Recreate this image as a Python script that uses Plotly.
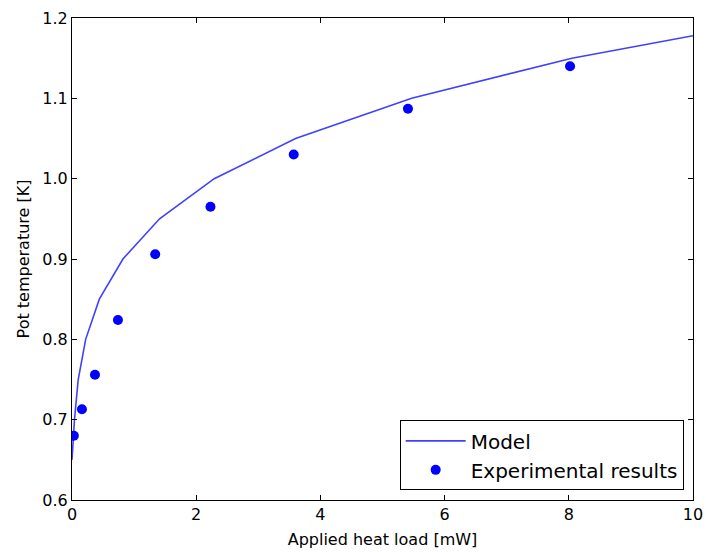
import plotly.graph_objects as go

# Model curve
model_q = [0.0, 0.04, 0.10, 0.22, 0.44, 0.82, 1.41, 2.29, 3.60, 5.47, 8.05, 10.0]
model_t = [0.65, 0.70, 0.75, 0.80, 0.85, 0.90, 0.95, 1.00, 1.05, 1.10, 1.15, 1.178]

# Experimental results
exp_q = [0.03, 0.16, 0.37, 0.74, 1.34, 2.23, 3.57, 5.41, 8.02]
exp_t = [0.680, 0.713, 0.756, 0.824, 0.906, 0.965, 1.030, 1.087, 1.140]
exp_err = [0.003, 0.003, 0.003, 0.003, 0.003, 0.003, 0.003, 0.003, 0.003]

x_ticks = [0, 2, 4, 6, 8, 10]
y_ticks = [0.6, 0.7, 0.8, 0.9, 1.0, 1.1, 1.2]

fig = go.Figure()
fig.add_trace(go.Scatter(
    x=model_q, y=model_t, mode="lines", name="Model",
    line=dict(color="rgba(0,0,255,0.75)", width=1.6),
))
fig.add_trace(go.Scatter(
    x=exp_q, y=exp_t, mode="markers", name="Experimental results",
    marker=dict(color="#0000ff", size=10, line=dict(width=0)),
    error_y=dict(type="data", array=exp_err, color="#0000ff", thickness=1, width=3),
))

axis_common = dict(
    showgrid=False, zeroline=False, showline=True, linecolor="black", linewidth=1,
    mirror="allticks", ticks="inside", ticklen=5, tickcolor="black", tickwidth=1,
    automargin=False,
    tickfont=dict(family="DejaVu Sans", size=16, color="black"),
)

fig.update_layout(
    width=706, height=552,
    margin=dict(l=72, r=13, t=18, b=52),
    paper_bgcolor="white", plot_bgcolor="white",
    font=dict(family="DejaVu Sans", size=16, color="black"),
    xaxis=dict(range=[0, 10], tickvals=x_ticks, ticktext=[str(v) for v in x_ticks],
               title=dict(text="Applied heat load [mW]", standoff=10,
                          font=dict(family="DejaVu Sans", size=16, color="black")),
               **axis_common),
    yaxis=dict(range=[0.6, 1.2], tickvals=y_ticks, ticktext=[f"{v:.1f}" for v in y_ticks],
               title=dict(text="Pot temperature [K]", standoff=8,
                          font=dict(family="DejaVu Sans", size=16, color="black")),
               **axis_common),
    legend=dict(x=0.985, y=0.02, xanchor="right", yanchor="bottom",
                bgcolor="white", bordercolor="black", borderwidth=1,
                font=dict(family="DejaVu Sans", size=20, color="black"),
                itemwidth=60, tracegroupgap=0),
    showlegend=True,
)

fig.write_html("out.html", config={"displayModeBar": False},
               post_script="document.body.style.margin='0';document.body.style.overflow='hidden';")
